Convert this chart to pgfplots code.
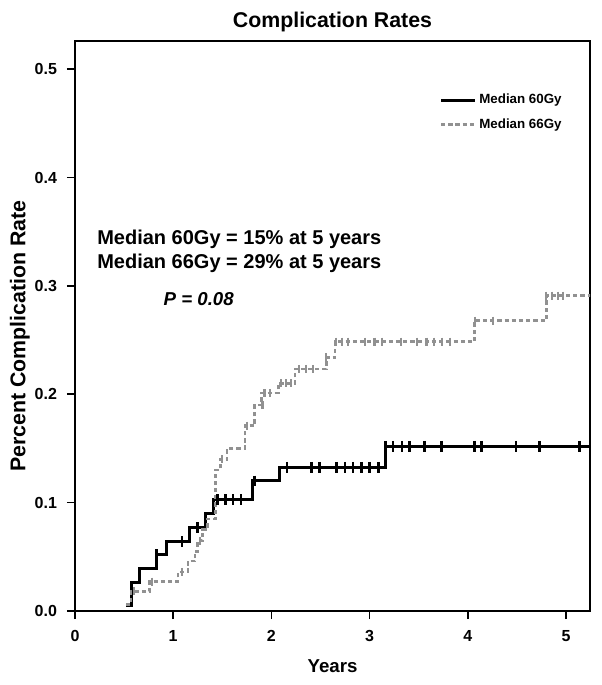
\documentclass[border=0pt]{standalone}
\usepackage{pgfplots}
\pgfplotsset{compat=1.18}
\usepackage{fontspec}
\setmainfont{Liberation Sans}
\definecolor{grayline}{RGB}{145,145,145}
\begin{document}
\begin{tikzpicture}
\begin{axis}[
  scale only axis,
  width=386.25pt, height=427.5pt,
  xmin=0, xmax=5.245, ymin=0, ymax=0.526,
  axis line style={line width=1.4pt},
  xtick={0,1,2,3,4,5}, ytick={0,0.1,0.2,0.3,0.4,0.5},
  tick style={line width=1.2pt, black},
  tick align=outside, major tick length=6pt,
  xtick pos=bottom, ytick pos=left,
  yticklabel style={xshift=-4pt, /pgf/number format/.cd, fixed, fixed zerofill, precision=1},
  /pgf/number format/assume math mode=true,
  ticklabel style={font=\bfseries\fontsize{12}{14}\selectfont},
  xticklabel style={yshift=-5pt},
  xlabel={Years}, ylabel={Percent Complication Rate},
  xlabel style={font=\bfseries\fontsize{14}{16}\selectfont, yshift=-6.75pt},
  ylabel style={at={(ticklabel cs:0.482)}, font=\bfseries\fontsize{16}{18}\selectfont, yshift=-3.25pt},
  title={Complication Rates},
  title style={font=\bfseries\fontsize{16}{18}\selectfont, yshift=-2.5pt},
  legend style={at={(axis cs:3.67,0.482)}, anchor=north west, draw=none, fill=none,
    font=\bfseries\fontsize{10}{12}\selectfont, row sep=5.5pt,
    cells={anchor=west}},
  legend image code/.code={\draw[#1] (0cm,0cm) -- (0.9cm,0cm);},
  clip=true,
]
% Median 60Gy
\addplot[const plot, black, line width=2.2pt] coordinates {
 (0.52,0.0055) (0.577,0.026) (0.66,0.039) (0.83,0.052) (0.93,0.064)
 (1.17,0.077) (1.33,0.090) (1.41,0.103) (1.81,0.120) (2.08,0.1326)
 (3.16,0.152) (5.26,0.152)};
\addlegendentry{Median 60Gy}
% Median 66Gy
\addplot[const plot, grayline, line width=1.9pt, dash pattern=on 3.2pt off 2.2pt] coordinates {
 (0.52,0.006) (0.57,0.018) (0.76,0.027) (1.05,0.036) (1.15,0.046)
 (1.22,0.055) (1.25,0.065) (1.30,0.075) (1.35,0.085) (1.43,0.130)
 (1.48,0.140) (1.55,0.150) (1.73,0.171) (1.83,0.190) (1.90,0.201)
 (2.07,0.210) (2.24,0.2235) (2.56,0.234) (2.65,0.2486) (4.07,0.268)
 (4.80,0.291) (5.26,0.291)};
\addlegendentry{Median 66Gy}
% censor marks 60Gy
\addplot[only marks, mark=|, mark size=4pt, black, mark options={line width=2pt}, forget plot] coordinates {
 (0.83,0.052) (1.09,0.064) (1.25,0.077)
 (1.45,0.103) (1.53,0.103) (1.61,0.103) (1.69,0.103) (1.83,0.120)
 (2.16,0.1326) (2.41,0.1326) (2.49,0.1326) (2.66,0.1326) (2.75,0.1326)
 (2.83,0.1326) (2.92,0.1326) (3.00,0.1326) (3.09,0.1326)
 (3.16,0.152) (3.24,0.152) (3.33,0.152) (3.41,0.152) (3.56,0.152)
 (3.73,0.152) (4.07,0.152) (4.14,0.152) (4.49,0.152) (4.73,0.152) (5.14,0.152)};
% censor marks 66Gy
\addplot[only marks, mark=|, mark size=3pt, grayline, mark options={line width=1.6pt}, forget plot] coordinates {
 (0.60,0.018) (0.78,0.027) (1.09,0.036) (1.27,0.065) (1.50,0.140)
 (1.75,0.171) (1.91,0.190) (1.93,0.201) (1.99,0.201)
 (2.10,0.210) (2.15,0.210) (2.20,0.210)
 (2.28,0.2235) (2.35,0.2235) (2.42,0.2235) (2.56,0.234)
 (2.66,0.2486) (2.72,0.2486) (2.78,0.2486) (2.95,0.2486) (3.05,0.2486)
 (3.13,0.2486) (3.32,0.2486) (3.48,0.2486) (3.58,0.2486) (3.66,0.2486)
 (3.74,0.2486) (3.82,0.2486)
 (4.07,0.268) (4.26,0.268) (4.80,0.291) (4.86,0.291) (4.92,0.291) (4.97,0.291)};
\node[anchor=west, font=\bfseries\fontsize{15}{18}\selectfont, align=left, inner sep=0pt]
  at (axis cs:0.224,0.332) {Median 60Gy = 15\% at 5 years\\Median 66Gy = 29\% at 5 years};
\node[font=\bfseries\itshape\fontsize{14}{16}\selectfont, inner sep=0pt]
  at (axis cs:1.26,0.288) {P = 0.08};
\end{axis}
\path (current axis.south west) ++(-56.25pt,-55.5pt) coordinate (bbA);
\path (current axis.south west) ++(394.5pt,458.25pt) coordinate (bbB);
\pgfresetboundingbox
\useasboundingbox (bbA) rectangle (bbB);
\end{tikzpicture}
\end{document}
